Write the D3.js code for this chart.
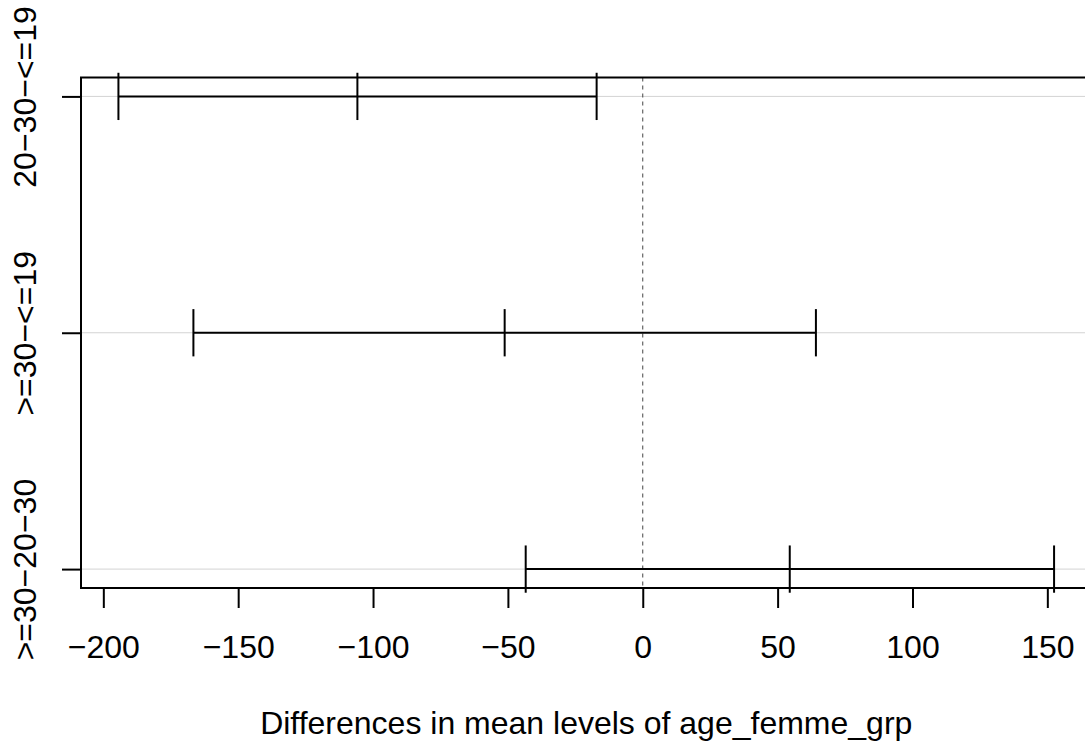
<!DOCTYPE html>
<html>
<head>
<meta charset="utf-8">
<script src="https://cdn.jsdelivr.net/npm/d3@7"></script>
<style>
  body { margin: 0; background: #fff; }
  svg { display: block; font-family: "Liberation Sans", Arial, sans-serif; }
</style>
</head>
<body>
<div id="chart"></div>
<script>
// comparisons (top to bottom) and Tukey HSD intervals
var comparisons = ["20\u221230\u2212<=19", ">=30\u2212<=19", ">=30\u221220\u221230"];
var diffs = [-105.8, -51.2, 54.5];
var lwrs = [-194.4, -166.6, -43.4];
var uprs = [-17.1, 64.2, 152.5];
var xTicks = [-200, -150, -100, -50, 0, 50, 100, 150];
var xTitle = "Differences in mean levels of age_femme_grp";

var width = 1085, height = 743;
// plot region (right edge runs past the window, as in the original)
var plot = {left: 81, right: 1091.5, top: 77.5, bottom: 588};

var svg = d3.select("#chart").append("svg")
    .attr("width", width)
    .attr("height", height);

// R style: data range extended by 4% on each side
var xmin = d3.min(lwrs), xmax = d3.max(uprs);
var xpad = (xmax - xmin) * 0.04;
var x = d3.scaleLinear()
    .domain([xmin - xpad, xmax + xpad])
    .range([plot.left, plot.right]);

var n = comparisons.length;
var ypad = (n - 1) * 0.04;
var y = d3.scaleLinear()
    .domain([n + ypad, 1 - ypad])
    .range([plot.top, plot.bottom]);
// first comparison sits at the top
function yv(i) { return y(n - i); }

var fmt = function(d) { return d < 0 ? "\u2212" + Math.abs(d) : "" + d; };

// light grey guide lines
svg.append("g").selectAll("line")
    .data(comparisons)
    .enter().append("line")
    .attr("x1", plot.left).attr("x2", plot.right)
    .attr("y1", function(d, i) { return yv(i); })
    .attr("y2", function(d, i) { return yv(i); })
    .attr("stroke", "#d3d3d3")
    .attr("stroke-width", 1);

// dashed zero line
svg.append("line")
    .attr("x1", x(0)).attr("x2", x(0))
    .attr("y1", plot.top).attr("y2", plot.bottom)
    .attr("stroke", "#444")
    .attr("stroke-width", 1)
    .attr("stroke-dasharray", "4,4");

// intervals
var g = svg.append("g")
    .attr("stroke", "#000")
    .attr("stroke-width", 2);

g.selectAll(".seg")
    .data(comparisons)
    .enter().append("line")
    .attr("class", "seg")
    .attr("x1", function(d, i) { return x(lwrs[i]); })
    .attr("x2", function(d, i) { return x(uprs[i]); })
    .attr("y1", function(d, i) { return yv(i); })
    .attr("y2", function(d, i) { return yv(i); });

var caps = [];
comparisons.forEach(function(d, i) {
    caps.push({i: i, v: lwrs[i]}, {i: i, v: diffs[i]}, {i: i, v: uprs[i]});
});
g.selectAll(".cap")
    .data(caps)
    .enter().append("line")
    .attr("class", "cap")
    .attr("x1", function(d) { return x(d.v); })
    .attr("x2", function(d) { return x(d.v); })
    .attr("y1", function(d) { return y(n - d.i + 0.1); })
    .attr("y2", function(d) { return y(n - d.i - 0.1); });

// box
svg.append("rect")
    .attr("x", plot.left).attr("y", plot.top)
    .attr("width", plot.right - plot.left)
    .attr("height", plot.bottom - plot.top)
    .attr("fill", "none")
    .attr("stroke", "#000")
    .attr("stroke-width", 2);

// x axis
var xAxis = svg.append("g")
    .attr("transform", "translate(0," + plot.bottom + ")")
    .call(d3.axisBottom(x).tickValues(xTicks).tickFormat(fmt).tickSize(20).tickSizeOuter(0));
xAxis.select(".domain").attr("stroke-width", 2)
    .attr("d", "M" + x(xTicks[0]) + ",0H" + x(xTicks[xTicks.length - 1]));
xAxis.selectAll(".tick line").attr("stroke-width", 2);
xAxis.selectAll(".tick text")
    .attr("y", 70).attr("dy", 0)
    .attr("font-size", 32)
    .attr("font-family", "Liberation Sans, Arial, sans-serif")
    .attr("fill", "#000");

// y axis
var yAxis = svg.append("g")
    .attr("transform", "translate(" + plot.left + ",0)")
    .call(d3.axisLeft(y).tickValues([3, 2, 1]).tickFormat(function(d) { return comparisons[n - d]; })
        .tickSize(19).tickSizeOuter(0));
yAxis.select(".domain").remove();
yAxis.selectAll(".tick line").attr("stroke-width", 2);
yAxis.selectAll(".tick text")
    .attr("x", 0).attr("dy", 0)
    .attr("text-anchor", "middle")
    .attr("transform", "translate(-45,0) rotate(-90)")
    .attr("font-size", 32)
    .attr("font-family", "Liberation Sans, Arial, sans-serif")
    .attr("fill", "#000");

// x title, centred on the plot region
svg.append("text")
    .attr("x", (plot.left + plot.right) / 2)
    .attr("y", 734)
    .attr("text-anchor", "middle")
    .attr("font-size", 32)
    .text(xTitle);
</script>
</body>
</html>
